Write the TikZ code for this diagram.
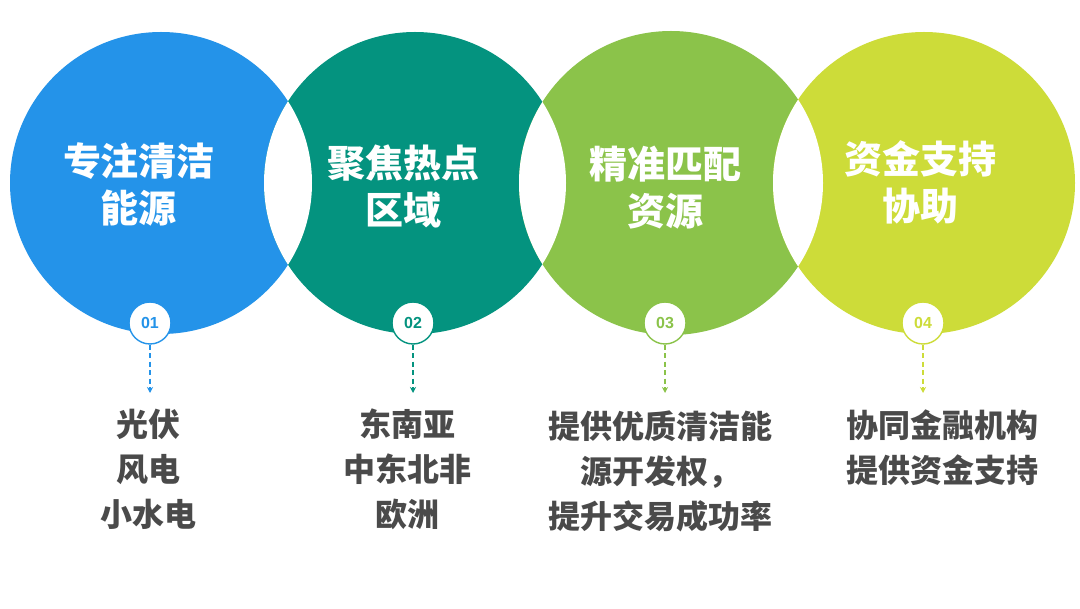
\documentclass[tikz,border=0pt]{standalone}
\usepackage{fontspec}
\newfontfamily\cjk{Noto Sans CJK SC}
\newfontfamily\numfont{Liberation Sans}
\usetikzlibrary{arrows.meta}
\definecolor{cA}{HTML}{2493E9}
\definecolor{cB}{HTML}{04937F}
\definecolor{cC}{HTML}{8BC34A}
\definecolor{cD}{HTML}{CDDC39}
\definecolor{txtgray}{HTML}{4A4A4A}
\tikzset{
  titletext/.style={align=center, text=white, font=\cjk\bfseries\fontsize{38}{47}\selectfont, inner sep=0pt},
  badge/.style={circle, fill=white, draw=#1, line width=1.4pt, minimum size=42pt, inner sep=0pt, text=#1, font=\numfont\bfseries\fontsize{16}{16}\selectfont},
  conn/.style={draw=#1, line width=1.1pt, dash pattern=on 5pt off 3.5pt, -{Stealth[length=6pt,width=6pt]}},
  desc/.style={align=center, text=txtgray, font=\cjk\bfseries\fontsize{32}{45}\selectfont, inner sep=0pt}
}
\begin{document}
\begin{tikzpicture}[x=1pt,y=-1pt]
\useasboundingbox (0,0) rectangle (1080,609);
\fill[white] (0,0) rectangle (1080,609);
% circles
\fill[cA] (161,183) circle (151);
\fill[cB] (415,183) circle (151);
\fill[cC] (671,183) circle (152);
\fill[cD] (924,183) circle (151);
% white lenses
\begin{scope}\clip (161,183) circle (151); \fill[white] (415,183) circle (151);\end{scope}
\begin{scope}\clip (415,183) circle (151); \fill[white] (671,183) circle (152);\end{scope}
\begin{scope}\clip (671,183) circle (152); \fill[white] (924,183) circle (151);\end{scope}
% titles
\node[titletext] (t1) at (139,184) {专注清洁\\能源};
\node[titletext] (t2) at (403,186) {聚焦热点\\区域};
\node[titletext] (t3) at (665,188) {精准匹配\\资源};
\node[titletext] (t4) at (920,182) {资金支持\\协助};
% badges
\node[badge=cA] (b1) at (150,323) {01};
\node[badge=cB] (b2) at (413,323) {02};
\node[badge=cC] (b3) at (665,323) {03};
\node[badge=cD] (b4) at (923,323) {04};
% arrow ends
\coordinate (a1) at (150,393);
\coordinate (a2) at (413,393);
\coordinate (a3) at (665,393);
\coordinate (a4) at (923,393);
\draw[conn=cA] (b1.south) -- (a1);
\draw[conn=cB] (b2.south) -- (a2);
\draw[conn=cC] (b3.south) -- (a3);
\draw[conn=cD] (b4.south) -- (a4);
% descriptions
\node[desc] (d1) at (148,469) {光伏\\风电\\小水电};
\node[desc] (d2) at (407,469) {东南亚\\中东北非\\欧洲};
\node[desc] (d3) at (660,471) {提供优质清洁能\\源开发权，\\提升交易成功率};
\node[desc] (d4) at (942,448) {协同金融机构\\提供资金支持};
\end{tikzpicture}
\end{document}
